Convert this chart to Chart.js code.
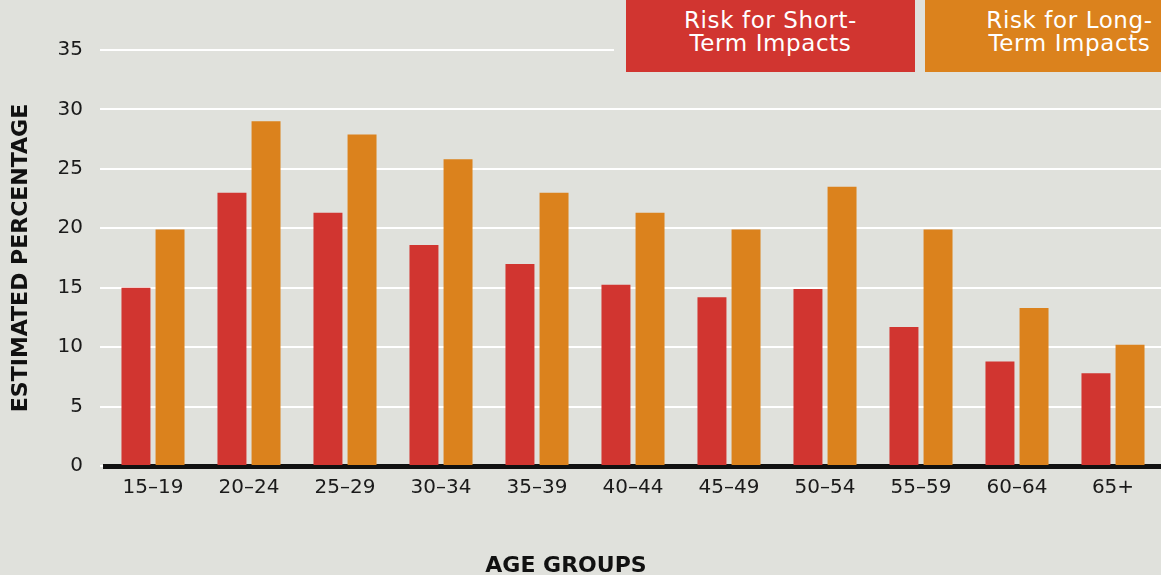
<!DOCTYPE html>
<html lang="en"><head><meta charset="utf-8"/>
<title>Estimated percentage by age group</title>
<script src="https://cdn.jsdelivr.net/npm/chart.js@4.4.1/dist/chart.umd.min.js"></script>
<style>
  html,body{margin:0;padding:0;background:#e0e1dc;overflow:hidden}
  #wrap{position:relative;width:1161px;height:575px}
  .legend{position:absolute;left:614px;top:0;width:547px;height:72px;background:#e0e1dc;overflow:hidden}
  .box{position:absolute;top:0;height:72px;width:289px;color:#fff;text-align:center;letter-spacing:0.6px;
       font-family:"DejaVu Sans",sans-serif;font-size:23px;line-height:23px;padding-top:9px;box-sizing:border-box}
  .xt{position:absolute;left:0;width:1132px;top:552px;text-align:center;
      font-family:"DejaVu Sans",sans-serif;font-weight:700;font-size:22px;color:#111}
</style></head><body>
<div id="wrap">
  <canvas id="c"></canvas>
  <div class="legend">
    <div class="box" style="left:12px;background:#d13530">Risk for Short-<br>Term Impacts</div>
    <div class="box" style="left:311px;background:#db821d">Risk for Long-<br>Term Impacts</div>
  </div>
  <div class="xt">AGE GROUPS</div>
</div>
<script>
const ageGroups = ['15–19','20–24','25–29','30–34','35–39','40–44','45–49','50–54','55–59','60–64','65+'];
const shortTerm = [15, 23, 21.3, 18.6, 17, 15.25, 14.2, 14.9, 11.7, 8.8, 7.8];
const longTerm  = [19.9, 29, 27.9, 25.8, 23, 21.3, 19.9, 23.5, 19.9, 13.3, 10.2];
const yTicks = [0, 5, 10, 15, 20, 25, 30, 35];

const font = {family:'"DejaVu Sans", sans-serif', size:20};
new Chart(document.getElementById('c'), {
  type:'bar',
  data:{labels:ageGroups, datasets:[
    {label:'Risk for Short-Term Impacts', data:shortTerm, backgroundColor:'#d13530', borderWidth:0},
    {label:'Risk for Long-Term Impacts', data:longTerm, backgroundColor:'#db821d', borderWidth:0}
  ]},
  options:{
    responsive:true, maintainAspectRatio:false, animation:false,
    categoryPercentage:0.71, barPercentage:0.85,
    layout:{padding:{top:50,right:0,bottom:0,left:0}},
    plugins:{legend:{display:false}, tooltip:{enabled:false}},
    scales:{
      x:{
        grid:{display:false, drawTicks:false},
        border:{display:true, color:'#111', width:5},
        ticks:{color:'#1a1a1a', font, padding:10},
        afterFit:s=>{ s.height = 109; }
      },
      y:{
        min:0, max:35,
        afterBuildTicks:s=>{ s.ticks = yTicks.map(v=>({value:v})); },
        grid:{color:'#ffffff', lineWidth:2, drawTicks:true, tickLength:5, tickColor:'#ffffff'},
        border:{display:false},
        ticks:{color:'#1a1a1a', font, padding:17},
        title:{display:true, text:'ESTIMATED PERCENTAGE', color:'#111',
               font:{family:'"DejaVu Sans", sans-serif', size:22, weight:'bold'}, padding:{top:8,bottom:0}},
        afterFit:s=>{ s.width = 105; }
      }
    }
  }
});
</script></body></html>
